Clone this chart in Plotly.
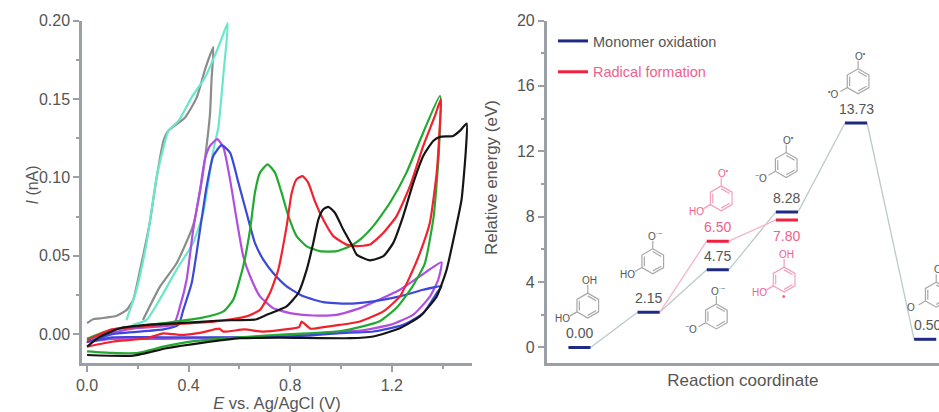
import plotly.graph_objects as go

W, H = 939, 412

# ---------- Cyclic voltammograms: E (V), I (nA) ----------
gray_E = [0.0,0.024,0.051,0.117,0.156,0.182,0.214,0.247,0.274,0.301,0.32,0.386,0.432,0.465,0.497,0.49,0.484,0.465,0.452,0.417,0.352,0.286,0.22]
gray_I = [0.007,0.0095,0.010,0.0117,0.0155,0.022,0.045,0.071,0.100,0.1233,0.1297,0.1382,0.151,0.169,0.183,0.1616,0.1403,0.1126,0.0977,0.069,0.045,0.030,0.009]
cyan_E = [0.155,0.194,0.234,0.274,0.301,0.32,0.36,0.412,0.465,0.517,0.554,0.537,0.517,0.497,0.457,0.417,0.352,0.286,0.234,0.18]
cyan_I = [0.009,0.028,0.058,0.100,0.119,0.1297,0.136,0.151,0.1638,0.183,0.1983,0.166,0.1318,0.117,0.077,0.058,0.041,0.022,0.009,0.006]
purple_E = [0.0,0.1,0.2,0.34,0.366,0.392,0.418,0.445,0.464,0.484,0.513,0.537,0.563,0.589,0.615,0.642,0.681,0.733,0.799,0.891,0.983,1.075,1.232,1.311,1.396,1.383,1.35,1.285,1.193,1.075,0.996,0.8,0.6,0.3,0.1,0.0]
purple_I = [-0.003,0.001,0.004,0.006,0.0177,0.0347,0.0667,0.0923,0.1115,0.120,0.1243,0.119,0.0987,0.0731,0.0497,0.0369,0.0241,0.0166,0.0134,0.0119,0.0123,0.0166,0.0283,0.0369,0.0458,0.0347,0.024,0.0124,0.0059,0.0023,0.0017,-0.001,-0.002,-0.003,-0.003,-0.005]
blue_E = [0.0,0.1,0.3,0.36,0.379,0.412,0.445,0.471,0.497,0.53,0.563,0.596,0.628,0.661,0.694,0.733,0.786,0.852,0.93,1.022,1.127,1.232,1.324,1.396,1.377,1.324,1.245,1.127,0.996,0.8,0.6,0.3,0.1,0.0]
blue_I = [-0.005,0.0,0.003,0.006,0.0155,0.0326,0.0667,0.0944,0.1136,0.1205,0.1158,0.0966,0.0774,0.0582,0.0475,0.039,0.0305,0.0241,0.0204,0.0194,0.0209,0.0241,0.0283,0.0305,0.0262,0.0134,0.0059,0.0017,0.0006,-0.0015,-0.002,-0.002,-0.002,-0.005]
green_E = [0.0,0.1,0.3,0.445,0.537,0.576,0.615,0.642,0.661,0.681,0.711,0.74,0.766,0.793,0.825,0.865,0.917,0.983,1.035,1.075,1.127,1.193,1.258,1.324,1.39,1.385,1.365,1.33,1.28,1.22,1.15,1.0,0.8,0.6,0.42,0.3,0.2,0.1,0.0]
green_I = [-0.003,0.003,0.007,0.0102,0.0145,0.022,0.0433,0.0667,0.0902,0.103,0.1083,0.103,0.0902,0.0752,0.0625,0.056,0.0529,0.0529,0.056,0.0603,0.0689,0.0838,0.103,0.1286,0.152,0.115,0.075,0.045,0.030,0.017,0.008,0.002,0.0,-0.002,-0.0045,-0.008,-0.012,-0.012,-0.011]
red_E = [0.0,0.05,0.1,0.3,0.5,0.628,0.681,0.72,0.753,0.786,0.806,0.825,0.849,0.871,0.897,0.93,0.97,1.022,1.062,1.114,1.167,1.219,1.272,1.324,1.37,1.394,1.39,1.377,1.35,1.311,1.272,1.232,1.167,1.075,0.996,0.93,0.88,0.845,0.835,0.78,0.694,0.62,0.537,0.52,0.45,0.366,0.3,0.235,0.15,0.104,0.0]
red_I = [-0.004,0.0,0.003,0.006,0.008,0.0113,0.0155,0.0262,0.0411,0.0689,0.0902,0.0987,0.1008,0.0966,0.0848,0.0731,0.0625,0.0571,0.0561,0.0571,0.0646,0.0753,0.0945,0.120,0.1392,0.150,0.135,0.103,0.071,0.0518,0.0369,0.0241,0.0145,0.0081,0.0059,0.0045,0.0035,0.008,0.0045,0.003,0.0016,0.003,0.0016,0.0035,0.001,-0.0005,0.0005,-0.0026,-0.004,-0.0047,-0.008]
black_E = [0.0,0.051,0.13,0.235,0.366,0.524,0.667,0.707,0.786,0.832,0.865,0.891,0.911,0.93,0.95,0.976,1.009,1.042,1.062,1.114,1.167,1.206,1.245,1.285,1.324,1.363,1.39,1.442,1.468,1.495,1.492,1.475,1.449,1.416,1.377,1.311,1.232,1.127,1.035,0.76,0.602,0.458,0.313,0.183,0.0]
black_I = [-0.008,-0.0016,0.0038,0.0059,0.007,0.0087,0.0095,0.0123,0.0177,0.0262,0.0411,0.0582,0.0731,0.0795,0.0812,0.0774,0.0667,0.0571,0.0507,0.0471,0.0497,0.0582,0.0753,0.0966,0.1136,0.1232,0.1258,0.1264,0.1296,0.1343,0.1179,0.0859,0.065,0.0411,0.024,0.0113,0.0038,-0.0015,-0.0026,-0.0022,-0.0026,-0.0054,-0.009,-0.0137,-0.0133]

cv_series = [
    ("Scan 1", gray_E, gray_I, "#8c8c8c"),
    ("Scan 2", cyan_E, cyan_I, "#68e8c8"),
    ("Scan 3", purple_E, purple_I, "#b04ee0"),
    ("Scan 4", blue_E, blue_I, "#3c48d8"),
    ("Scan 5", green_E, green_I, "#22aa30"),
    ("Scan 6", red_E, red_I, "#f0222e"),
    ("Scan 7", black_E, black_I, "#151515"),
]

# ---------- Energy diagram ----------
monomer_x = [1, 2, 3, 4, 5, 6]
monomer_energy = [0.00, 2.15, 4.75, 8.28, 13.73, 0.50]
monomer_labels = ["0.00", "2.15", "4.75", "8.28", "13.73", "0.50"]
radical_x = [2, 3, 4]
radical_energy = [2.15, 6.50, 7.80]
radical_level_x = [3, 4]
radical_level_energy = [6.50, 7.80]
level_half_width = 0.16

# molecule: ring centre x, ring centre y, top group, left group, colour key
mol_x = [1.12, 2.06, 3.05, 2.98, 3.99, 3.96, 5.03, 6.16]
mol_y = [2.56, 5.27, 9.12, 1.90, 11.16, 4.15, 16.28, 3.23]
mol_top = ["OH", "O<sup>·−</sup>", "O<sup>•</sup>", "O<sup>·−</sup>", "O<sup>•</sup>", "OH", "O<sup>•</sup>", "O"]
mol_left = ["HO", "HO", "HO", "<sup>−</sup>O", "<sup>−</sup>O", "HO", "<sup>•</sup>O", "O"]
mol_pink = [False, False, True, False, False, True, False, False]

FONT = "Liberation Sans, Arial, sans-serif"
TXT = "#555555"
NAVY = "#1e2a86"
RED = "#f2203e"
PINK_TXT = "#f0608c"

X1 = [82 / W, 472 / W]
X2 = [546.7 / W, 1.0]
Y = [1 - 363 / H, 1 - 20.5 / H]

fig = go.Figure()

for name, e, i, c in cv_series:
    fig.add_trace(go.Scatter(x=e, y=i, mode="lines", name=name, showlegend=False,
                             line=dict(color=c, width=2.2, shape="spline", smoothing=0.5),
                             xaxis="x", yaxis="y", hoverinfo="skip"))


def connectors(xs, es):
    cx, cy = [], []
    for k in range(len(xs) - 1):
        cx += [xs[k] + level_half_width, xs[k + 1] - level_half_width, None]
        cy += [es[k], es[k + 1], None]
    return cx, cy


def levels(xs, es):
    lx, ly = [], []
    for a, b in zip(xs, es):
        lx += [a - level_half_width, a + level_half_width, None]
        ly += [b, b, None]
    return lx, ly


cx, cy = connectors(monomer_x, monomer_energy)
fig.add_trace(go.Scatter(x=cx, y=cy, mode="lines", showlegend=False, hoverinfo="skip",
                         line=dict(color="#bccaca", width=1.3), xaxis="x2", yaxis="y2"))
cx, cy = connectors(radical_x, radical_energy)
fig.add_trace(go.Scatter(x=cx, y=cy, mode="lines", showlegend=False, hoverinfo="skip",
                         line=dict(color="#f6b4cc", width=1.3), xaxis="x2", yaxis="y2"))

# molecule skeletons: hexagons are derived from the ring centres
PX_X = (939 - 546.7) / (6.2 - 0.526)
PX_Y = (363 - 20.5) / (20.0 + 0.95)
R = 12.5
HEX = [(0.0, 1.0), (0.866, 0.5), (0.866, -0.5), (0.0, -1.0), (-0.866, -0.5), (-0.866, 0.5), (0.0, 1.0)]
for pink in (False, True):
    hx, hy = [], []
    for mx, my, p in zip(mol_x, mol_y, mol_pink):
        if p != pink:
            continue
        for a, b in HEX:
            hx.append(mx + a * R / PX_X)
            hy.append(my + b * R / PX_Y)
        hx.append(None); hy.append(None)
        for k in (0, 2, 4):
            for a, b in (HEX[k], HEX[k + 1]):
                hx.append(mx + 0.78 * a * R / PX_X)
                hy.append(my + 0.78 * b * R / PX_Y)
            hx.append(None); hy.append(None)
        hx += [mx, mx, None]
        hy += [my + R / PX_Y, my + (R + 8) / PX_Y, None]
        hx += [mx - 0.866 * R / PX_X, mx - 0.866 * (R + 8) / PX_X, None]
        hy += [my - 0.5 * R / PX_Y, my - 0.5 * (R + 8) / PX_Y, None]
    fig.add_trace(go.Scatter(x=hx, y=hy, mode="lines", showlegend=False, hoverinfo="skip",
                             line=dict(color="#f2a0bc" if pink else "#a8a8a8", width=1.2),
                             xaxis="x2", yaxis="y2"))

lx, ly = levels(monomer_x, monomer_energy)
fig.add_trace(go.Scatter(x=lx, y=ly, mode="lines", name="Monomer oxidation", legendgroup="a",
                         line=dict(color=NAVY, width=3), xaxis="x2", yaxis="y2"))
lx, ly = levels(radical_level_x, radical_level_energy)
fig.add_trace(go.Scatter(x=lx, y=ly, mode="lines", legendgroup="b",
                         name=f'<span style="color:{PINK_TXT}">Radical formation</span>',
                         line=dict(color=RED, width=3), xaxis="x2", yaxis="y2"))

ann = []
for a, b, t in zip(monomer_x, monomer_energy, monomer_labels):
    ann.append(dict(x=a, y=b, text=t, xref="x2", yref="y2", showarrow=False, yshift=14,
                    xshift=2 if t == "0.50" else 0,
                    font=dict(size=14, color=TXT, family=FONT)))
ann.append(dict(x=3, y=6.50, text="6.50", xref="x2", yref="y2", showarrow=False, yshift=14,
                font=dict(size=14, color=PINK_TXT, family=FONT)))
ann.append(dict(x=4, y=7.80, text="7.80", xref="x2", yref="y2", showarrow=False, yshift=-16,
                font=dict(size=14, color=PINK_TXT, family=FONT)))
for mx, my, top, left, p in zip(mol_x, mol_y, mol_top, mol_left, mol_pink):
    col = PINK_TXT if p else TXT
    ann.append(dict(x=mx, y=my, text=top, xref="x2", yref="y2", showarrow=False,
                    yshift=25, xshift=2, font=dict(size=10, color=col, family=FONT)))
    ann.append(dict(x=mx, y=my, text=left, xref="x2", yref="y2", showarrow=False,
                    yshift=-13, xshift=-25, font=dict(size=10, color=col, family=FONT)))
ann.append(dict(x=3.96, y=4.15, text="•", xref="x2", yref="y2", showarrow=False,
                yshift=-17, font=dict(size=10, color=PINK_TXT, family=FONT)))
ann.append(dict(x=21 / W, y=1 - 185 / H, text="<i>I</i> (nA)", xref="paper", yref="paper",
                showarrow=False, textangle=-90, font=dict(size=16, color=TXT, family=FONT)))
ann.append(dict(x=491 / W, y=1 - 178 / H, text="Relative energy (eV)", xref="paper", yref="paper",
                showarrow=False, textangle=-90, font=dict(size=17, color=TXT, family=FONT)))

AXLINE = "#9aa0a6"
common = dict(showgrid=False, zeroline=False, showline=True, linewidth=2.5, ticks="outside",
              ticklen=6, tickwidth=1.5, tickcolor=AXLINE, linecolor=AXLINE,
              tickfont=dict(size=16, color=TXT, family=FONT))

fig.update_layout(
    width=W, height=H, margin=dict(l=0, r=0, t=0, b=0, autoexpand=False),
    paper_bgcolor="white", plot_bgcolor="white",
    annotations=ann,
    legend=dict(x=553 / W, y=1 - 25 / H, xanchor="left", yanchor="top", bgcolor="rgba(0,0,0,0)",
                tracegroupgap=9, itemwidth=30, font=dict(size=14.5, color=TXT, family=FONT)),
    xaxis=dict(domain=X1, range=[-0.02, 1.516], anchor="y", tickvals=[0, 0.4, 0.8, 1.2],
               ticktext=["0.0", "0.4", "0.8", "1.2"],
               minor=dict(tickvals=[0.2, 0.6, 1.0, 1.4], ticks="outside", ticklen=3, tickcolor=AXLINE),
               title=dict(text="<i>E</i> vs. Ag/AgCl (V)", standoff=2, font=dict(size=16.5, color=TXT, family=FONT)),
               **common),
    yaxis=dict(domain=Y, range=[-0.0184, 0.2], anchor="x", tickvals=[0, 0.05, 0.10, 0.15, 0.20],
               ticktext=["0.00", "0.05", "0.10", "0.15", "0.20"],
               minor=dict(tickvals=[0.025, 0.075, 0.125, 0.175], ticks="outside", ticklen=3, tickcolor=AXLINE),
               **common),
    xaxis2=dict(domain=X2, range=[0.526, 6.2], anchor="y2", showticklabels=False,
                title=dict(text="Reaction coordinate", standoff=10, font=dict(size=17, color=TXT, family=FONT)),
                showgrid=False, zeroline=False, showline=True, linewidth=2.5, linecolor=AXLINE, ticks=""),
    yaxis2=dict(domain=Y, range=[-0.95, 20], anchor="x2", tickvals=[0, 4, 8, 12, 16, 20],
                minor=dict(tickvals=[2, 6, 10, 14, 18], ticks="outside", ticklen=3, tickcolor=AXLINE),
                **common),
)

fig.write_html("out.html", config={"displayModeBar": False},
               post_script="document.body.style.margin='0';document.body.style.overflow='hidden';")
